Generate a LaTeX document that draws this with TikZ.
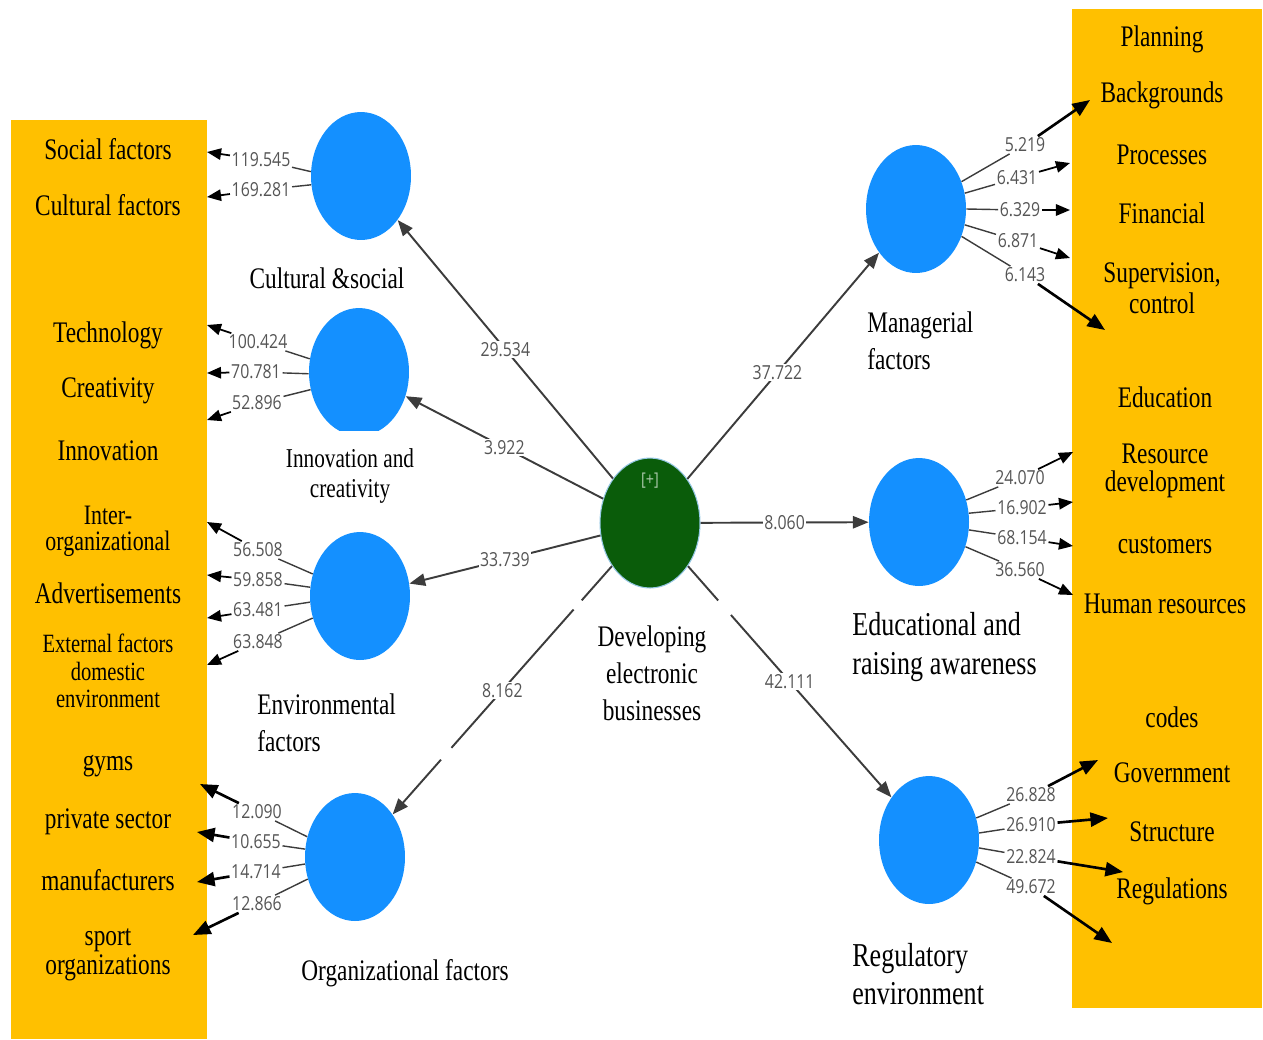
\documentclass[tikz,border=0pt]{standalone}
\usepackage{fontspec}
\setmainfont{Liberation Serif}[FakeStretch=0.78]
\newfontfamily\numfont{Open Sans}[FakeStretch=0.82]
\usetikzlibrary{arrows.meta,shapes.geometric}
\definecolor{panelyellow}{RGB}{255,192,0}
\definecolor{lvblue}{RGB}{20,144,255}
\definecolor{coregreen}{RGB}{10,92,10}
\definecolor{corerim}{RGB}{150,200,230}
\definecolor{numgray}{RGB}{85,85,85}
\definecolor{edgegray}{RGB}{60,60,60}
\definecolor{plusgray}{RGB}{170,200,170}
\begin{document}
\begin{tikzpicture}[x=0.02cm,y=-0.02cm,
  latent/.style={ellipse, fill=lvblue, minimum width=2cm, minimum height=2.56cm, inner sep=0pt},
  corenode/.style={ellipse, fill=coregreen, draw=corerim, line width=0.6pt, minimum width=2cm, minimum height=2.6cm, inner sep=0pt},
  indicator/.style={font=\fontsize{17}{14}\selectfont, align=center, inner sep=0pt},
  caption/.style={font=\fontsize{17}{21}\selectfont, inner sep=0pt},
  num/.style={font=\numfont\fontsize{11}{12}\selectfont, text=numgray, fill=white, inner sep=0.8pt},
  structural/.style={draw=edgegray, line width=1.1pt, -{Triangle[length=9pt,width=7pt]}},
  loadline/.style={draw=edgegray, line width=0.8pt},
  pointer/.style={draw=black, line width=1pt, -{Triangle[length=8pt,width=6.5pt]}},
  heavypointer/.style={draw=black, line width=1.5pt, -{Triangle[length=10pt,width=8pt]}},
]
\useasboundingbox (0,0) rectangle (1263,1039);

% indicator panels
\fill[panelyellow] (11,120) rectangle (207,1039);
\fill[panelyellow] (1072,9) rectangle (1262,1008);

% latent variables
\node[corenode] (core) at (650,523) {};
\node[font=\numfont\fontsize{10}{11}\selectfont, text=plusgray] (plus) at (650,481) {[+]};
\node[latent] (cs) at (361,176) {};
\begin{scope}
  \clip (280,290) rectangle (440,430);
  \node[latent] (ic) at (359,372) {};
\end{scope}
\node[latent] (ef) at (360,596) {};
\node[latent] (of) at (355,857) {};
\node[latent] (mf) at (916,209) {};
\node[latent] (ea) at (919,522) {};
\node[latent] (re) at (929,840) {};

% captions of the latent variables
\node[caption] (lcs) at (327,278) {Cultural \&social};
\node[caption, font=\fontsize{15.5}{17}\selectfont, align=center] (lic) at (350,476) {Innovation and\\creativity};
\node[caption, align=left, anchor=west] (lef) at (257,723) {Environmental\\factors};
\node[caption] (lof) at (405,973) {Organizational factors};
\node[caption, align=center] (lcore) at (652,673) {Developing\\electronic\\businesses};
\node[caption, align=left, anchor=west] (lmf) at (867,341) {Managerial\\factors};
\node[caption, font=\fontsize{19}{22.7}\selectfont, align=left, anchor=west] (lea) at (852,647) {Educational and\\raising awareness};
\node[caption, font=\fontsize{19}{22}\selectfont, align=left, anchor=west] (lre) at (852,974) {Regulatory\\environment};

% left indicators
\node[indicator] (i1) at (108,149) {Social factors};
\node[indicator] (i2) at (108,205) {Cultural factors};
\node[indicator] (i3) at (108,335) {Technology};
\node[indicator] (i4) at (108,391) {Creativity};
\node[indicator] (i5) at (108,451) {Innovation};
\node[indicator, font=\fontsize{16}{14.6}\selectfont] (i6) at (108,531) {Inter-\\organizational};
\node[indicator] (i7) at (108,593) {Advertisements};
\node[indicator, font=\fontsize{15}{15.6}\selectfont] (i8) at (108,671) {External factors\\domestic\\environment};
\node[indicator] (i9) at (108,766) {gyms};
\node[indicator] (i10) at (108,822) {private sector};
\node[indicator] (i11) at (108,880) {manufacturers};
\node[indicator, font=\fontsize{17}{16.4}\selectfont] (i12) at (108,955) {sport\\organizations};

% right indicators
\node[indicator] (j1) at (1162,39) {Planning};
\node[indicator] (j2) at (1162,95) {Backgrounds};
\node[indicator] (j3) at (1162,155) {Processes};
\node[indicator] (j4) at (1162,213) {Financial};
\node[indicator, font=\fontsize{17}{17.6}\selectfont] (j5) at (1162,288) {Supervision,\\control};
\node[indicator] (j6) at (1165,397) {Education};
\node[indicator, font=\fontsize{17}{16}\selectfont] (j7) at (1165,471) {Resource\\development};
\node[indicator] (j8) at (1165,545) {customers};
\node[indicator] (j9) at (1165,604) {Human resources};
\node[indicator] (j10) at (1172,717) {codes};
\node[indicator] (j11) at (1172,773) {Government};
\node[indicator] (j12) at (1172,832) {Structure};
\node[indicator] (j13) at (1172,891) {Regulations};

% structural paths from the core construct
\draw[structural] (core) -- node[num]{29.534} (cs);
\draw[structural] (core) -- node[num]{3.922} (ic);
\draw[structural] (core) -- node[num]{33.739} (ef);
\draw[structural, dash pattern=on 26pt off 7pt on 105pt off 9pt on 60pt] (core) -- node[num]{8.162} (of);
\draw[structural] (core) -- node[num, pos=0.47]{37.722} (mf);
\draw[structural] (core) -- node[num]{8.060} (ea);
\draw[structural, dash pattern=on 26pt off 11pt on 200pt] (core) -- node[num]{42.111} (re);

% arrow ends at the panels
\coordinate (t1) at (207,152);  \coordinate (t2) at (207,197);
\coordinate (t3) at (207,325);  \coordinate (t4) at (207,373);  \coordinate (t5) at (207,420);
\coordinate (t6) at (207,522);  \coordinate (t7) at (207,575);  \coordinate (t8) at (207,618);  \coordinate (t9) at (207,665);
\coordinate (t10) at (200,784); \coordinate (t11) at (197,832); \coordinate (t12) at (197,882); \coordinate (t13) at (193,935);
\coordinate (m1) at (1090,100); \coordinate (m2) at (1070,163); \coordinate (m3) at (1070,210); \coordinate (m4) at (1070,258); \coordinate (m5) at (1105,330);
\coordinate (e1) at (1073,452); \coordinate (e2) at (1073,502); \coordinate (e3) at (1073,546); \coordinate (e4) at (1073,595);
\coordinate (r1) at (1098,760); \coordinate (r2) at (1108,818); \coordinate (r3) at (1123,872); \coordinate (r4) at (1112,943);

% loadings
\node[num] (n1) at (261,160) {119.545};
\node[num] (n2) at (261,190) {169.281};
\node[num] (n3) at (258,342) {100.424};
\node[num] (n4) at (256,372) {70.781};
\node[num] (n5) at (257,403) {52.896};
\node[num] (n6) at (258,550) {56.508};
\node[num] (n7) at (258,580) {59.858};
\node[num] (n8) at (258,610) {63.481};
\node[num] (n9) at (258,642) {63.848};
\node[num] (n10) at (257,812) {12.090};
\node[num] (n11) at (256,842) {10.655};
\node[num] (n12) at (256,872) {14.714};
\node[num] (n13) at (257,904) {12.866};
\node[num] (k1) at (1025,145) {5.219};
\node[num] (k2) at (1017,178) {6.431};
\node[num] (k3) at (1020,210) {6.329};
\node[num] (k4) at (1018,241) {6.871};
\node[num] (k5) at (1025,275) {6.143};
\node[num] (k6) at (1020,478) {24.070};
\node[num] (k7) at (1022,508) {16.902};
\node[num] (k8) at (1022,538) {68.154};
\node[num] (k9) at (1020,570) {36.560};
\node[num] (k10) at (1031,795) {26.828};
\node[num] (k11) at (1031,825) {26.910};
\node[num] (k12) at (1031,857) {22.824};
\node[num] (k13) at (1031,887) {49.672};

% cultural & social
\draw[loadline] (cs.175) -- (n1);  \draw[pointer] (n1) -- (t1);
\draw[loadline] (cs.190) -- (n2);  \draw[pointer] (n2) -- (t2);
% innovation and creativity
\draw[loadline] (ic.165) -- (n3);  \draw[pointer] (n3) -- (t3);
\draw[loadline] (ic.182) -- (n4);  \draw[pointer] (n4) -- (t4);
\draw[loadline] (ic.200) -- (n5);  \draw[pointer] (n5) -- (t5);
% environmental
\draw[loadline] (ef.155) -- (n6);  \draw[pointer] (n6) -- (t6);
\draw[loadline] (ef.170) -- (n7);  \draw[pointer] (n7) -- (t7);
\draw[loadline] (ef.187) -- (n8);  \draw[pointer] (n8) -- (t8);
\draw[loadline] (ef.205) -- (n9);  \draw[pointer] (n9) -- (t9);
% organizational
\draw[loadline] (of.157) -- (n10); \draw[heavypointer] (n10) -- (t10);
\draw[loadline] (of.171) -- (n11); \draw[heavypointer] (n11) -- (t11);
\draw[loadline] (of.188) -- (n12); \draw[heavypointer] (n12) -- (t12);
\draw[loadline] (of.205) -- (n13); \draw[heavypointer] (n13) -- (t13);
% managerial
\draw[loadline] (mf.31) -- (k1);   \draw[heavypointer] (k1) -- (m1);
\draw[loadline] (mf.18) -- (k2);   \draw[pointer] (k2) -- (m2);
\draw[loadline] (mf.0) -- (k3);    \draw[pointer] (k3) -- (m3);
\draw[loadline] (mf.-18) -- (k4);  \draw[pointer] (k4) -- (m4);
\draw[loadline] (mf.-31) -- (k5);  \draw[heavypointer] (k5) -- (m5);
% educational
\draw[loadline] (ea.25) -- (k6);   \draw[pointer] (k6) -- (e1);
\draw[loadline] (ea.10) -- (k7);   \draw[pointer] (k7) -- (e2);
\draw[loadline] (ea.-9) -- (k8);   \draw[pointer] (k8) -- (e3);
\draw[loadline] (ea.-28) -- (k9);  \draw[pointer] (k9) -- (e4);
% regulatory
\draw[loadline] (re.25) -- (k10);  \draw[heavypointer] (k10) -- (r1);
\draw[loadline] (re.8) -- (k11);   \draw[heavypointer] (k11) -- (r2);
\draw[loadline] (re.-9) -- (k12);  \draw[heavypointer] (k12) -- (r3);
\draw[loadline] (re.-25) -- (k13); \draw[heavypointer] (k13) -- (r4);
\end{tikzpicture}
\end{document}
